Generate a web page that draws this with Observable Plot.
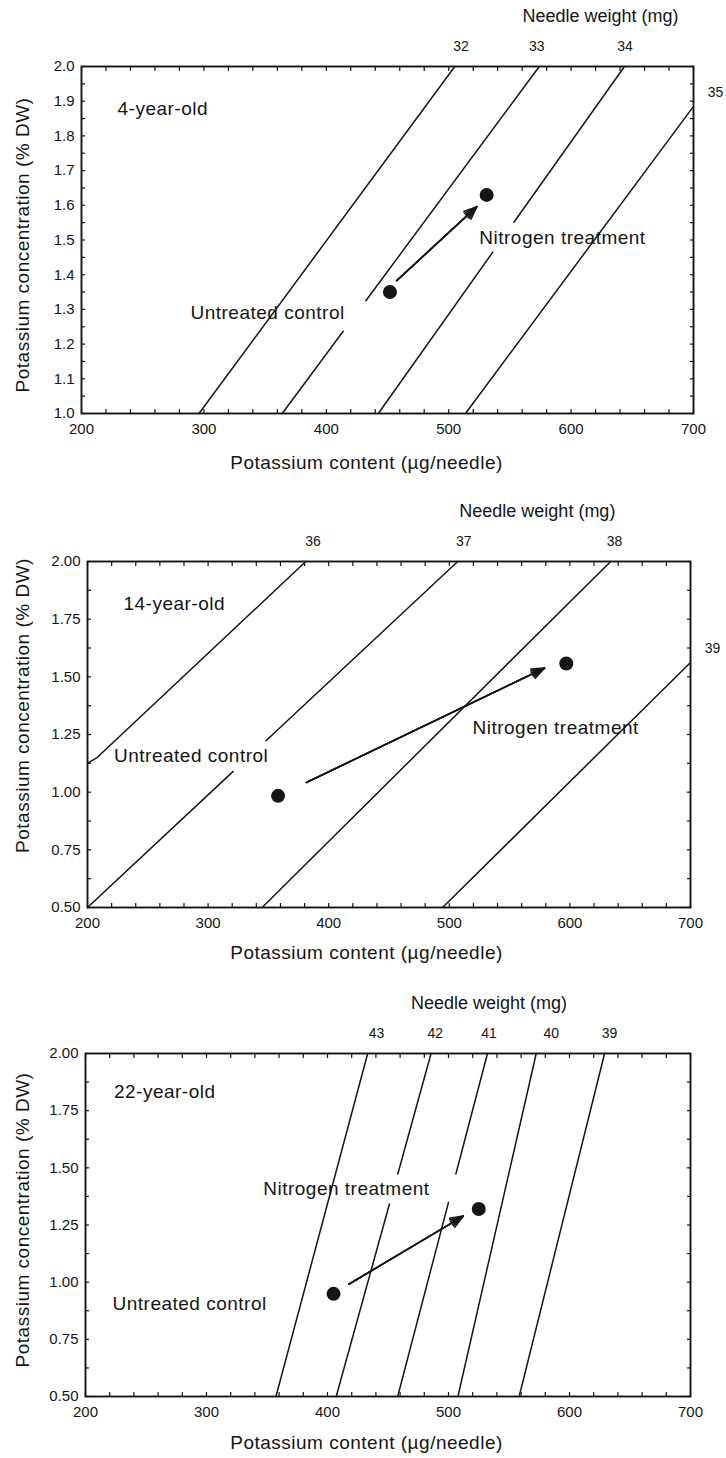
<!DOCTYPE html>
<html>
<head>
<meta charset="utf-8">
<script src="https://cdn.jsdelivr.net/npm/d3@7"></script>
<script src="https://cdn.jsdelivr.net/npm/@observablehq/plot@0.6"></script>
<style>
  html, body { margin: 0; padding: 0; background: #fff; }
  #chart { width: 726px; }
  #chart svg { display: block; }
</style>
</head>
<body>
<div id="chart"></div>
<script>
// ---- Axis ticks -----------------------------------------------------------
const xTicks = [200, 300, 400, 500, 600, 700];
const xMinorTicks = [200, 220, 240, 260, 280, 300, 320, 340, 360, 380, 400, 420, 440, 460, 480,
                     500, 520, 540, 560, 580, 600, 620, 640, 660, 680, 700];
const yTicks4 = [1.0, 1.1, 1.2, 1.3, 1.4, 1.5, 1.6, 1.7, 1.8, 1.9, 2.0];
const yMinor4 = [1.0, 1.05, 1.1, 1.15, 1.2, 1.25, 1.3, 1.35, 1.4, 1.45, 1.5,
                 1.55, 1.6, 1.65, 1.7, 1.75, 1.8, 1.85, 1.9, 1.95, 2.0];
const yTicksOlder = [0.5, 0.75, 1.0, 1.25, 1.5, 1.75, 2.0];
const yMinorOlder = [0.5, 0.625, 0.75, 0.875, 1.0, 1.125, 1.25, 1.375, 1.5, 1.625, 1.75, 1.875, 2.0];

// ---- Stands ---------------------------------------------------------------
const ages = ["4-year-old", "14-year-old", "22-year-old"];

// Needle K content (µg/needle) and K concentration (% DW)
const control  = [[452, 1.35], [358, 0.984], [405, 0.949]];
const nitrogen = [[531, 1.63], [597, 1.558], [525, 1.32]];

// Response arrow, control -> nitrogen treatment
const shiftFrom = [[457.5, 1.383], [381.5, 1.042], [417.6, 0.991]];
const shiftTo   = [[523, 1.596], [579, 1.538], [512.2, 1.289]];

// ---- Needle weight isolines (mg); null breaks a line ----------------------
const weights4 = [32, 33, 34, 35];
const isolines4 = [
  [[296, 1.0], [505, 2.0]],
  [[364, 1.0], [413.8, 1.237], null, [432.3, 1.325], [574, 2.0]],
  [[442.5, 1.0], [536, 1.465], null, [553.3, 1.551], [643.6, 2.0]],
  [[513.7, 1.0], [700, 1.885]]
];
const weightLabelAt4 = [[510, 2.0], [572, 2.0], [644, 2.0], [700, 1.924]];

const weights14 = [36, 37, 38, 39];
const isolines14 = [
  [[200, 1.125], [204, 1.138], [208, 1.15], [381, 2.0]],
  [[200, 0.5], [320.8, 1.09], null, [348, 1.223], [507, 2.0]],
  [[344.8, 0.5], [633.8, 2.0]],
  [[494.4, 0.5], [700, 1.562]]
];
const weightLabelAt14 = [[387, 2.0], [512, 2.0], [637, 2.0], [700, 1.622]];

const weights22 = [43, 42, 41, 40, 39];
const isolines22 = [
  [[357.4, 0.5], [433.2, 2.0]],
  [[407.2, 0.5], [451.2, 1.342], null, [458.1, 1.473], [485.6, 2.0]],
  [[458, 0.5], [500, 1.349], null, [506.1, 1.473], [532.2, 2.0]],
  [[507.8, 0.5], [572.5, 2.0]],
  [[558.4, 0.5], [629, 2.0]]
];
const weightLabelAt22 = [[440.5, 2.0], [489, 2.0], [533.5, 2.0], [585, 2.0], [633, 2.0]];

// ---- Annotation anchors (data units) --------------------------------------
const ageLabelAt      = [[229.4, 1.878], [229.8, 1.817], [223.5, 1.83]];
const controlLabelAt  = [[289, 1.289], [222, 1.158], [222.3, 0.906]];
const nitrogenLabelAt = [[525, 1.507], [519.2, 1.278], [346.9, 1.409]];
const needleTitleX    = [624, 573, 533.5];

const xTitle = "Potassium content (µg/needle)";
const yTitle = "Potassium concentration (% DW)";
const needleTitle = "Needle weight (mg)";
const controlText = "Untreated control";
const nitrogenText = "Nitrogen treatment";

// ---- Panel setup -----------------------------------------------------------
const panels = [
  {yDomain: [1, 2], yTicks: yTicks4, yMinor: yMinor4, yFormat: ".1f",
   weights: weights4, isolines: isolines4, weightLabelAt: weightLabelAt4,
   height: 490, marginTop: 66, marginRight: 33, marginBottom: 77, marginLeft: 81,
   xTitleDy: 49, yTitleDy: 5},
  {yDomain: [0.5, 2], yTicks: yTicksOlder, yMinor: yMinorOlder, yFormat: ".2f",
   weights: weights14, isolines: isolines14, weightLabelAt: weightLabelAt14,
   height: 490, marginTop: 71, marginRight: 36, marginBottom: 73, marginLeft: 87,
   xTitleDy: 45, yTitleDy: -29},
  {yDomain: [0.5, 2], yTicks: yTicksOlder, yMinor: yMinorOlder, yFormat: ".2f",
   weights: weights22, isolines: isolines22, weightLabelAt: weightLabelAt22,
   height: 478, marginTop: 73, marginRight: 36, marginBottom: 62, marginLeft: 85,
   xTitleDy: 46, yTitleDy: -5}
];

const ink = "#151515";
const font = '"Liberation Sans", Arial, Helvetica, sans-serif';
const labelSize = 19;

function drawPanel(p, i) {
  const lineRows = p.isolines.flatMap((pts, k) =>
    pts.map(pt => pt ? {w: p.weights[k], x: pt[0], y: pt[1]} : {w: p.weights[k], x: NaN, y: NaN}));
  const labelRows = p.weights.map((w, k) => ({w, x: p.weightLabelAt[k][0], y: p.weightLabelAt[k][1]}));
  const topLabels = labelRows.filter(d => d.y >= p.yDomain[1]);
  const sideLabels = labelRows.filter(d => d.y < p.yDomain[1]);
  const frameCenterX = (p.marginLeft + (726 - p.marginRight)) / 2;

  const arrowRow = [{x1: shiftFrom[i][0], y1: shiftFrom[i][1], x2: shiftTo[i][0], y2: shiftTo[i][1]}];
  const dots = [
    {x: control[i][0], y: control[i][1]},
    {x: nitrogen[i][0], y: nitrogen[i][1]}
  ];

  const svg = Plot.plot({
    width: 726,
    height: p.height,
    marginTop: p.marginTop,
    marginRight: p.marginRight,
    marginBottom: p.marginBottom,
    marginLeft: p.marginLeft,
    style: {fontFamily: font, fontSize: "15px", color: ink, background: "#fff", overflow: "visible"},
    x: {domain: [200, 700]},
    y: {domain: p.yDomain},
    marks: [
      // inward minor ticks on all four sides
      Plot.axisX({anchor: "bottom", ticks: xMinorTicks, tickSize: -4, fill: "none", label: null, strokeWidth: 1.2}),
      Plot.axisX({anchor: "top", ticks: xMinorTicks, tickSize: -4, fill: "none", label: null, strokeWidth: 1.2}),
      Plot.axisY({anchor: "left", ticks: p.yMinor, tickSize: -4, fill: "none", label: null, strokeWidth: 1.2}),
      Plot.axisY({anchor: "right", ticks: p.yMinor, tickSize: -4, fill: "none", label: null, strokeWidth: 1.2}),
      // tick labels
      Plot.axisX({anchor: "bottom", ticks: xTicks, tickSize: 0, tickPadding: 10, label: null, fontSize: 15}),
      Plot.axisY({anchor: "left", ticks: p.yTicks, tickSize: 0, tickPadding: 7, label: null,
                  tickFormat: d3.format(p.yFormat), fontSize: 15}),
      // needle weight isolines
      Plot.line(lineRows, {x: "x", y: "y", z: "w", stroke: ink, strokeWidth: 1.5}),
      Plot.frame({stroke: ink, strokeWidth: 1.9}),
      // isoline labels
      Plot.text(topLabels, {x: "x", y: "y", text: d => String(d.w), dy: -20, fontSize: 14, fill: ink}),
      Plot.text(sideLabels, {x: "x", y: "y", text: d => String(d.w), dx: 22, fontSize: 14, fill: ink}),
      Plot.text([needleTitle], {x: needleTitleX[i], frameAnchor: "top", dy: -50, lineAnchor: "middle",
                                text: d => d, fontSize: 18, fill: ink}),
      // treatment response
      ...[16, 30, 44].map(a => Plot.arrow(arrowRow, {x1: "x1", y1: "y1", x2: "x2", y2: "y2",
        stroke: ink, strokeWidth: 1.6, headLength: 13, headAngle: a})),
      Plot.dot(dots, {x: "x", y: "y", r: 7, fill: ink, stroke: "none"}),
      // annotations
      Plot.text([ages[i]], {x: ageLabelAt[i][0], y: ageLabelAt[i][1], text: d => d,
                            textAnchor: "start", fontSize: labelSize, fill: ink}),
      Plot.text([controlText], {x: controlLabelAt[i][0], y: controlLabelAt[i][1], text: d => d,
                                textAnchor: "start", fontSize: labelSize, fill: ink}),
      Plot.text([nitrogenText], {x: nitrogenLabelAt[i][0], y: nitrogenLabelAt[i][1], text: d => d,
                                 textAnchor: "start", fontSize: labelSize, fill: ink}),
      // axis titles
      Plot.text([xTitle], {frameAnchor: "bottom", dy: p.xTitleDy, dx: 366 - frameCenterX,
                           textAnchor: "middle", lineAnchor: "middle",
                           text: d => d, fontSize: labelSize, fill: ink}),
      Plot.text([yTitle], {frameAnchor: "left", rotate: -90, dx: 22 - p.marginLeft, dy: p.yTitleDy,
                           textAnchor: "middle", lineAnchor: "middle",
                           text: d => d, fontSize: labelSize, fill: ink})
    ]
  });

  // the printed labels are set slightly open
  svg.querySelectorAll(`g[font-size="${labelSize}"]`).forEach(g => g.style.letterSpacing = "0.5px");
  return svg;
}

const host = document.getElementById("chart");
panels.forEach((p, i) => host.appendChild(drawPanel(p, i)));
</script>
</body>
</html>
